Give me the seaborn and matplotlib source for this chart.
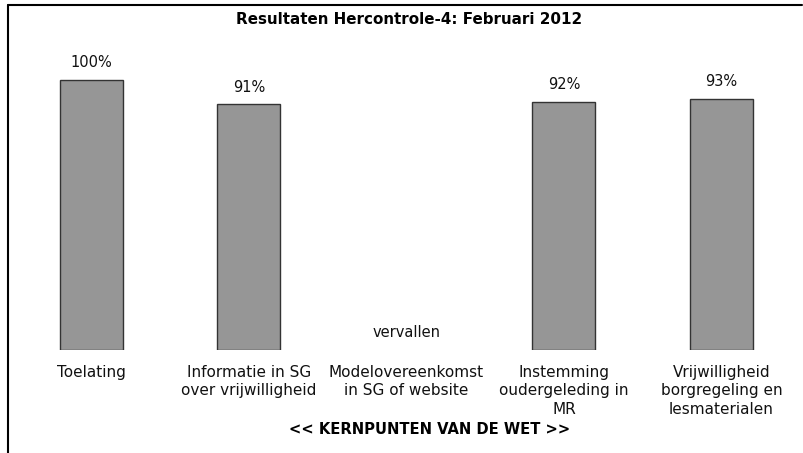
import numpy as np
import pandas as pd
import matplotlib
matplotlib.use("Agg")
import matplotlib.pyplot as plt
import seaborn as sns

categories = [
    "Toelating",
    "Informatie in SG\nover vrijwilligheid",
    "Modelovereenkomst\nin SG of website",
    "Instemming\noudergeleding in\nMR",
    "Vrijwilligheid\nborgregeling en\nlesmaterialen",
]
values = [1.00, 0.91, np.nan, 0.92, 0.93]
value_labels = ["100%", "91%", "vervallen", "92%", "93%"]

df = pd.DataFrame({"kernpunt": categories, "score": values})

sns.set_style("white")
plt.rcParams["font.family"] = ["DejaVu Sans"]

fig = plt.figure(figsize=(8.04, 4.53), dpi=100)
W, H = 804, 453
ax = fig.add_axes([12.75 / W, (H - 350) / H, 787.5 / W, 324 / H])

sns.barplot(data=df, x="kernpunt", y="score", order=categories,
            color="#969696", saturation=1, width=0.4,
            edgecolor="#333333", linewidth=1.0, ax=ax)

ax.set_xlim(-0.5, 4.5)
ax.set_ylim(0, 1.2)

# data labels (vervallen sits at the baseline)
for i, (v, lab) in enumerate(zip(values, value_labels)):
    base = 0 if np.isnan(v) else v
    ax.text(i, base + 0.064, lab, ha="center", va="center", fontsize=10.5,
            color="#111111")

ax.set_xticks(range(len(categories)))
ax.set_xticklabels(categories, fontsize=11, linespacing=1.32, va="top",
                   color="#111111")
ax.tick_params(axis="x", length=0, pad=10.5)
ax.set_yticks([])
ax.set_xlabel("")
ax.set_ylabel("")
sns.despine(ax=ax, left=True, bottom=True)

fig.text(429.5 / W, 1 - 430 / H, "<< KERNPUNTEN VAN DE WET >>", ha="center",
         va="center", fontsize=10.6, fontweight="bold", color="black")
fig.text(409 / W, 1 - 20 / H, "Resultaten Hercontrole-4: Februari 2012",
         ha="center", va="center", fontsize=10.9, fontweight="bold",
         color="black")

# chart frame (only top and left edge visible)
fig.add_artist(plt.Line2D([8 / W, 8 / W], [0, 1 - 5 / H], color="black",
                          linewidth=1.5, transform=fig.transFigure))
fig.add_artist(plt.Line2D([8 / W, 802 / W], [1 - 5 / H, 1 - 5 / H],
                          color="black", linewidth=1.5,
                          transform=fig.transFigure))

fig.savefig("out.png", dpi=100)
